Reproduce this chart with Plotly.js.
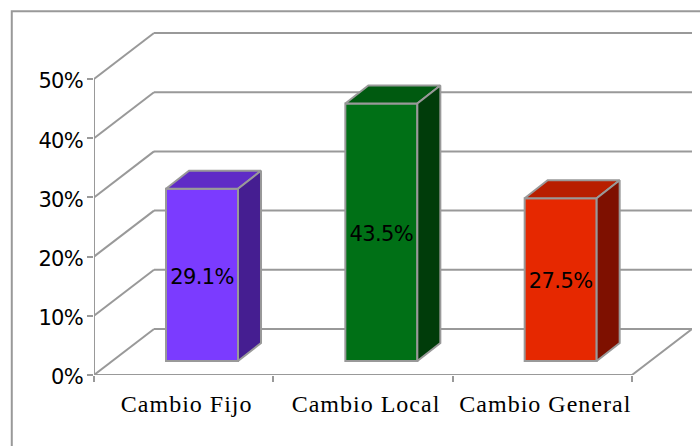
<!DOCTYPE html>
<html>
<head>
<meta charset="utf-8">
<script src="https://cdn.plot.ly/plotly-3.0.1.min.js"></script>
<style>
html,body{margin:0;padding:0;background:#fff;overflow:hidden}
#c{width:700px;height:446px}
.xtick text{letter-spacing:1px}
.ytick text{letter-spacing:-0.8px}
.textpoint text{letter-spacing:-0.6px}
</style>
</head>
<body>
<div id="c"></div>
<script>
const categories = ['Cambio Fijo', 'Cambio Local', 'Cambio General'];
const values = [29.1, 43.5, 27.5];
const valueLabels = ['29.1%', '43.5%', '27.5%'];
const frontColors = ['#7B3BFF', '#007016', '#E62800'];
const topColors = ['#5F2BC6', '#005A10', '#B81E00'];
const sideColors = ['#451E91', '#003C0A', '#7E1000'];
const yTicks = [0, 10, 20, 30, 40, 50];
const yTickLabels = ['0%', '10%', '20%', '30%', '40%', '50%'];

const GREY = '#999999';
const pxX = 179.33, pxY = 5.92;
const wallDX = 60 / pxX, wallDY = 46 / pxY;
const barDX = 23 / pxX, barDY = 18 / pxY;
const barW = 72 / pxX, barOffX = 0.1023, barBase = 14 / pxY;
const xL = -0.5, xR = 2.5;
const yMax = yTicks[yTicks.length - 1];
const labelDrop = 3.5 / pxY;

const traces = [];
const catIdx = categories.map((_, i) => i);

traces.push({
  type: 'bar', x: catIdx.map(i => i + barOffX), y: values, base: values.map(() => barBase),
  width: barW,
  marker: {color: frontColors, line: {color: GREY, width: 2}},
  textposition: 'none', cliponaxis: false, hoverinfo: 'skip', showlegend: false
});

catIdx.forEach(i => {
  const l = i + barOffX - barW / 2, r = l + barW;
  const b = barBase, t = barBase + values[i];
  traces.push({
    type: 'scatter', mode: 'lines', fill: 'toself', fillcolor: topColors[i],
    x: [l, r, r + barDX, l + barDX, l], y: [t, t, t + barDY, t + barDY, t],
    line: {color: GREY, width: 2}, hoverinfo: 'skip', showlegend: false
  });
  traces.push({
    type: 'scatter', mode: 'lines', fill: 'toself', fillcolor: sideColors[i],
    x: [r, r + barDX, r + barDX, r, r], y: [b, b + barDY, t + barDY, t, b],
    line: {color: GREY, width: 2}, hoverinfo: 'skip', showlegend: false
  });
});

// Value labels centred on the front faces
traces.push({
  type: 'scatter', mode: 'text', x: catIdx.map(i => i + barOffX),
  y: values.map(v => barBase + v / 2 - labelDrop),
  text: valueLabels, textposition: 'middle center',
  textfont: {family: 'DejaVu Sans', size: 21, color: '#000'},
  hoverinfo: 'skip', showlegend: false
});

// Front edge lines: left wall height, floor front and right edges, and diagonal wall lines
const frameX = [xL, xL, null, xL, xR, xR + wallDX];
const frameY = [0, yMax, null, 0, 0, wallDY];
yTicks.forEach(v => { frameX.push(null, xL, xL + wallDX); frameY.push(null, v, v + wallDY); });
traces.push({
  type: 'scatter', mode: 'lines', x: frameX, y: frameY, cliponaxis: false,
  line: {color: GREY, width: 2}, hoverinfo: 'skip', showlegend: false
});

// Invisible trace to carry the secondary x axis (boundary ticks)
traces.push({type: 'scatter', mode: 'none', x: [xL], y: [0], xaxis: 'x2', hoverinfo: 'skip', showlegend: false});

// Back wall gridlines behind bars
const shapes = yTicks.map(v => ({
  type: 'line', layer: 'below', xref: 'x', yref: 'y',
  x0: xL + wallDX, x1: xR + wallDX, y0: v + wallDY, y1: v + wallDY,
  line: {color: GREY, width: 2}
}));
// Outer frame
shapes.push({
  type: 'path', xref: 'paper', yref: 'paper', layer: 'above',
  path: 'M -0.1375 -0.2076 L -0.1375 1.0547 L 1.02 1.0547',
  line: {color: GREY, width: 2}
});

const xRange = [xL, xL + 598 / pxX];
const layout = {
  width: 700, height: 446,
  margin: {l: 94, r: 8, t: 30, b: 71, pad: 0},
  paper_bgcolor: '#fff', plot_bgcolor: 'rgba(0,0,0,0)',
  showlegend: false, hovermode: false, barmode: 'overlay',
  xaxis: {
    range: xRange, tickmode: 'array', tickvals: catIdx, ticktext: categories,
    showgrid: false, zeroline: false, showline: false, ticks: '',
    ticklabelstandoff: 12, ticklabelshift: 3,
    tickfont: {family: 'Liberation Serif', size: 24, color: '#000'}
  },
  xaxis2: {
    overlaying: 'x', anchor: 'y', side: 'bottom', range: xRange, tickmode: 'array',
    tickvals: [xL, xL + 1, xL + 2, xL + 3], showticklabels: false,
    ticks: 'outside', ticklen: 6, tickwidth: 2, tickcolor: GREY,
    showgrid: false, zeroline: false, showline: false
  },
  yaxis: {
    range: [0, 345 / pxY], tickmode: 'array', tickvals: yTicks, ticktext: yTickLabels,
    showgrid: false, zeroline: false, showline: false,
    ticks: 'outside', ticklen: 6, tickwidth: 2, tickcolor: GREY,
    ticklabelshift: 2,
    tickfont: {family: 'DejaVu Sans', size: 21, color: '#000'}
  },
  shapes: shapes
};
Plotly.newPlot('c', traces, layout, {displayModeBar: false, staticPlot: true});
</script>
</body>
</html>
